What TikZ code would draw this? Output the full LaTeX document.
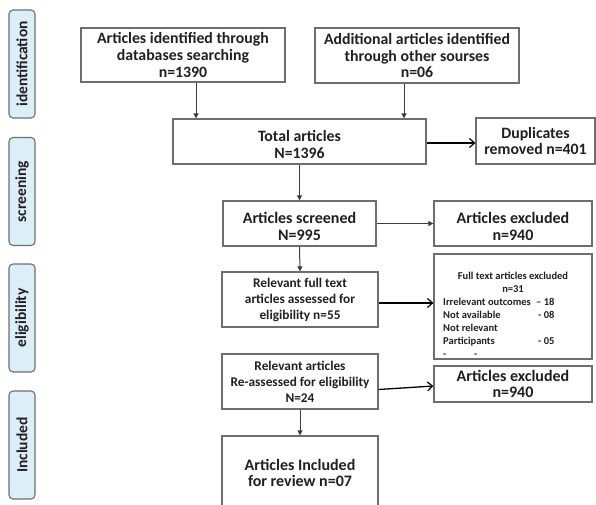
\documentclass[tikz,border=0pt]{standalone}
\usepackage{fontspec}
\setmainfont{Carlito}
\usetikzlibrary{arrows.meta}
\definecolor{boxline}{HTML}{6E6E6E}
\definecolor{txt}{HTML}{231F20}
\definecolor{sidefill}{HTML}{DCEFF9}
\definecolor{arrowgray}{HTML}{3C3C3C}
\newcommand{\lowerby}{\rule{0pt}{17pt}}
\tikzset{
  box/.style={draw=boxline, line width=1.3pt, fill=white, inner sep=1pt, align=center, text=txt, font=\bfseries},
  side/.style={draw=boxline, line width=1.1pt, fill=sidefill, rounded corners=4pt, minimum width=108pt, minimum height=26pt, rotate=90, font=\bfseries\fontsize{15.5}{17}\selectfont, text=txt, inner sep=0pt},
  down/.style={draw=arrowgray, line width=1pt, -{Triangle[length=5pt,width=5pt]}},
  openarrow/.style={draw=black, line width=1.3pt, -{Straight Barb[length=5pt,width=9pt,line width=1.2pt]}},
  fs13/.style={font=\bfseries\fontsize{15.8}{16.7}\selectfont},
  fs14/.style={font=\bfseries\fontsize{16}{16.7}\selectfont},
  fs12/.style={font=\bfseries\fontsize{13.3}{16}\selectfont},
}
\begin{document}
\begin{tikzpicture}[x=1pt,y=-1pt]
\useasboundingbox (0,0) rectangle (596,504);
% side labels
\node[side] (sid) at (22,64) {identification};
\node[side] (sscr) at (22,191.5) {screening};
\node[side] (selig) at (22,318) {eligibility};
\node[side] (sinc) at (22,445) {Included};
% boxes
\node[box, fs13, minimum width=204pt, minimum height=54pt] (b1) at (183,55) {Articles identified through\\databases searching\\n=1390};
\node[box, fs13, minimum width=204pt, minimum height=55pt] (b2) at (417,55.5) {Additional articles identified\\through other sourses\\n=06};
\node[box, fs13, minimum width=253pt, minimum height=45pt] (tot) at (299.5,141.5) {\lowerby Total articles\\N=1396};
\node[box, fs13, minimum width=119pt, minimum height=46pt] (dup) at (535.5,141) {Duplicates\\removed n=401};
\node[box, fs14, minimum width=153pt, minimum height=45pt] (scr) at (299.5,223.5) {\lowerby Articles screened\\N=995};
\node[box, fs14, minimum width=158pt, minimum height=45pt] (exc1) at (513,223.5) {\lowerby Articles excluded\\n=940};
\node[box, fs12, minimum width=156pt, minimum height=55pt] (rel) at (300,299.5) {Relevant full text\\articles assessed for\\eligibility n=55};
\node[box, minimum width=158pt, minimum height=105pt] (ft) at (513,306.5) {};
\node[box, fs12, minimum width=156pt, minimum height=55pt] (re) at (300,381.5) {Relevant articles\\Re-assessed for eligibility\\N=24};
\node[box, fs14, minimum width=158pt, minimum height=36pt] (exc2) at (513,384) {Articles excluded\\n=940};
\node[box, fs14, minimum width=156pt, minimum height=74pt] (inc) at (300,473) {Articles Included\\for review n=07};
% full text content
\node[anchor=north, inner sep=0pt, text=txt, font=\bfseries\fontsize{10.5}{13}\selectfont, align=center] (fttitle) at (513,272) {Full text articles excluded\\n=31};
\node[anchor=north west, inner sep=0pt, text=txt, font=\bfseries\fontsize{10.5}{13}\selectfont, align=left] (ftlist) at (443,298) {%
\makebox[93pt][l]{Irrelevant outcomes}– 18\\
\makebox[95pt][l]{Not available}- 08\\
Not relevant\\
\makebox[95pt][l]{Participants}- 05\\
\makebox[31pt][l]{-}-};
% arrows
\draw[down] ([xshift=13pt]b1.south) -- ([xshift=13pt]b1.south |- tot.north);
\draw[down] ([xshift=-13pt]b2.south) -- ([xshift=-13pt]b2.south |- tot.north);
\draw[openarrow] ([yshift=-1.5pt]tot.east) -- ([yshift=-1.5pt]tot.east -| dup.west);
\draw[down] (tot.south) -- (scr.north);
\draw[down] (scr.east) -- (exc1.west);
\draw[down] (scr.south) -- (rel.north);
\draw[openarrow] ([yshift=-3.5pt]rel.east) -- ([yshift=-3.5pt]rel.east -| ft.west);
\draw[openarrow] ([yshift=-8pt]re.east) -- ([yshift=-2pt]exc2.west);
\draw[down] (re.south) -- (inc.north);
\end{tikzpicture}
\end{document}
